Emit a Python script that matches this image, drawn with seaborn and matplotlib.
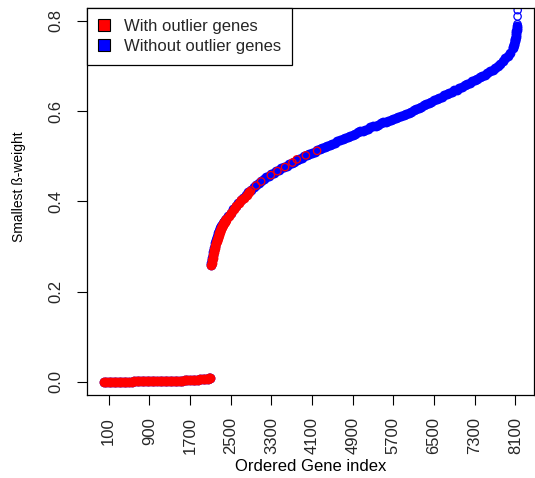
import numpy as np
import pandas as pd
import matplotlib
matplotlib.use("Agg")
import matplotlib.pyplot as plt
from matplotlib.patches import Patch
import seaborn as sns

low_vals = [0.000, 0.000, 0.000, 0.000, 0.000, 0.000, 0.000, 0.000, 0.000, 0.000,
            0.000, 0.000, 0.001, 0.001, 0.001, 0.001, 0.001, 0.001, 0.001, 0.001,
            0.001, 0.001, 0.001, 0.001, 0.001, 0.001, 0.002, 0.002, 0.002, 0.002,
            0.002, 0.002, 0.003, 0.003, 0.003, 0.004, 0.004, 0.004, 0.005, 0.005,
            0.006, 0.007, 0.008, 0.009]
low_idx = list(range(1, 2101, 50)) + [2075, 2095]

steep_vals = [0.258, 0.263, 0.269, 0.275, 0.281, 0.287, 0.292, 0.297, 0.302, 0.307,
              0.311, 0.315, 0.319, 0.322, 0.326, 0.329, 0.332, 0.335, 0.338, 0.341,
              0.344, 0.346, 0.348, 0.350, 0.352, 0.354, 0.355, 0.357, 0.358, 0.360]
steep_start = 2110

mid_vals = [0.368, 0.375, 0.383, 0.390, 0.396, 0.402, 0.408, 0.414, 0.420, 0.425,
            0.431, 0.436, 0.441, 0.445, 0.449, 0.453, 0.457, 0.460, 0.463, 0.467,
            0.470, 0.473, 0.476, 0.479, 0.482, 0.485, 0.488, 0.491, 0.494, 0.497,
            0.500, 0.502, 0.505, 0.508, 0.510, 0.513, 0.515, 0.518, 0.520, 0.523,
            0.525, 0.528, 0.530, 0.533, 0.535, 0.538, 0.540, 0.543, 0.545, 0.548,
            0.550, 0.553, 0.555, 0.557, 0.559, 0.561, 0.564, 0.566, 0.568, 0.570,
            0.573, 0.575, 0.577, 0.579, 0.581, 0.583, 0.585, 0.587, 0.590, 0.592,
            0.594, 0.597, 0.599, 0.602, 0.604, 0.607, 0.610, 0.613, 0.616, 0.619,
            0.621, 0.624, 0.627, 0.629, 0.632, 0.635, 0.637, 0.640, 0.643, 0.646,
            0.648, 0.651, 0.654, 0.657, 0.660, 0.663, 0.666, 0.669, 0.672, 0.675,
            0.678, 0.681, 0.685, 0.688, 0.692, 0.696, 0.700, 0.705, 0.711, 0.717,
            0.723, 0.730, 0.739]
mid_start = 2450

tail_idx = [8060, 8070, 8080, 8090, 8095, 8100, 8105, 8110, 8115, 8120,
            8125, 8130, 8135]
tail_vals = [0.742, 0.746, 0.750, 0.755, 0.758, 0.761, 0.765, 0.769, 0.773, 0.777,
             0.781, 0.785, 0.788]
top_idx = [8141, 8143, 8145]
top_vals = [0.793, 0.810, 0.824]

# red series: dense up to ~2850, then only a few scattered genes
red_sparse_idx = [2900, 3000, 3100, 3290, 3420, 3570, 3715, 3800, 3980, 4200]
red_sparse_vals = [0.424, 0.435, 0.444, 0.458, 0.467, 0.476, 0.486, 0.493, 0.502, 0.512]
red_steep_shift = 12

x_ticks = list(range(100, 8101, 800))
y_ticks = [0.0, 0.2, 0.4, 0.6, 0.8]

steep_idx = [steep_start + 10 * i for i in range(len(steep_vals))]
mid_idx = [mid_start + 50 * i for i in range(len(mid_vals))]

blue_dense = pd.DataFrame({
    "idx": low_idx + steep_idx + mid_idx + tail_idx,
    "val": low_vals + steep_vals + mid_vals + tail_vals,
})
blue_sparse = pd.DataFrame({"idx": top_idx, "val": top_vals})

n_red_mid = sum(1 for i in mid_idx if i <= 2850)
red_dense = pd.DataFrame({
    "idx": low_idx + [i + red_steep_shift for i in steep_idx]
           + [i + red_steep_shift for i in mid_idx[:n_red_mid]],
    "val": low_vals + steep_vals + mid_vals[:n_red_mid],
})
red_sparse = pd.DataFrame({"idx": red_sparse_idx, "val": red_sparse_vals})

sns.set_theme(style="white")
plt.rcParams["font.family"] = ["Liberation Sans", "DejaVu Sans"]

fig = plt.figure(figsize=(5.35, 4.78), dpi=100)
ax = fig.add_axes([87 / 535, 83 / 478, 447 / 535, 387 / 478])

# thousands of overlapping open circles in the original read as a solid band
for dense, sparse, col in [(blue_dense, blue_sparse, "#0000FF"),
                           (red_dense, red_sparse, "#FF0000")]:
    sns.scatterplot(data=dense, x="idx", y="val", ax=ax, marker="o", s=50,
                    color=col, edgecolor=col, linewidth=0, legend=False)
    sns.scatterplot(data=sparse, x="idx", y="val", ax=ax, marker="o", s=28,
                    facecolor="none", edgecolor=col, linewidth=0.9, legend=False)

ax.set_xlim(-325, 8466)
ax.set_ylim(-0.0295, 0.8288)
ax.set_xticks(x_ticks)
ax.set_xticklabels([str(t) for t in x_ticks], rotation=90, fontsize=12)
ax.set_yticks(y_ticks)
ax.set_yticklabels([f"{t:.1f}" for t in y_ticks], rotation=90, va="center", fontsize=12)
ax.tick_params(axis="both", direction="out", length=7, width=0.8, color="black",
               bottom=True, left=True)
ax.tick_params(axis="x", pad=9)
ax.tick_params(axis="y", pad=10)
for sp in ax.spines.values():
    sp.set_color("black")
    sp.set_linewidth(0.9)

ax.set_xlabel("Ordered Gene index", fontsize=12, color="black")
ax.set_ylabel("Smallest ß-weight", fontsize=10, color="black")
ax.xaxis.set_label_coords(0.5, -0.165)
ax.yaxis.set_label_coords(-0.136, 0.539)

handles = [Patch(facecolor="#FF0000", edgecolor="black", linewidth=0.8, label="With outlier genes"),
           Patch(facecolor="#0000FF", edgecolor="black", linewidth=0.8, label="Without outlier genes")]
leg = ax.legend(handles=handles, loc="upper left", bbox_to_anchor=(0, 1), borderaxespad=0,
                fontsize=12, frameon=True, fancybox=False, framealpha=1, edgecolor="black",
                handlelength=0.75, handleheight=0.75, handletextpad=0.8,
                labelspacing=0.3, borderpad=0.65)
leg.get_frame().set_linewidth(0.9)

fig.savefig("out.png", dpi=100)
